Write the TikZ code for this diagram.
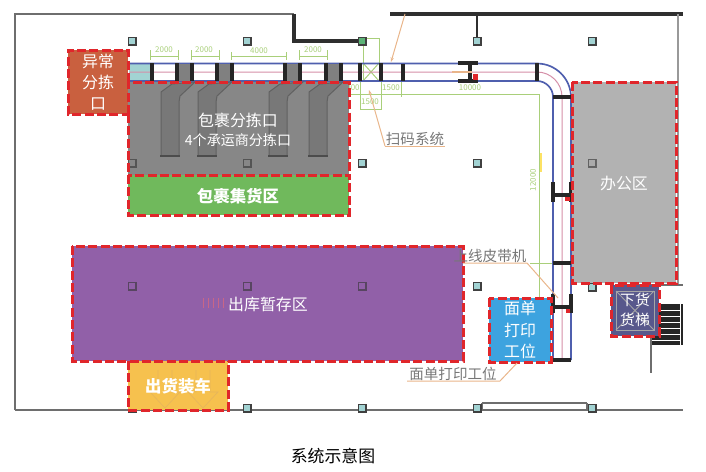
\documentclass[tikz,border=0pt]{standalone}
\usepackage{fontspec}
\setmainfont{Noto Sans CJK SC}
\usetikzlibrary{arrows.meta}
\definecolor{wallgray}{HTML}{6E6E6E}
\definecolor{walldark}{HTML}{2F2F2F}
\definecolor{beltblue}{HTML}{4F5FAE}
\definecolor{beltpink}{HTML}{D58FA8}
\definecolor{dimgreen}{HTML}{A9CF7A}
\definecolor{leadorange}{HTML}{E9B58A}
\definecolor{labelgray}{HTML}{777777}
\definecolor{zonered}{HTML}{E0262B}
\definecolor{pillarteal}{HTML}{A2D3D3}
\definecolor{loadyellow}{HTML}{F6C14E}
\definecolor{loadarrow}{HTML}{E6B55C}
\tikzset{
  wall/.style={line width=0.045cm,color=wallgray},
  thickwall/.style={line width=0.1cm,color=walldark},
  belt/.style={line width=0.05cm,color=beltblue},
  beltmid/.style={line width=0.03cm,color=beltpink},
  beltbar/.style={line width=0.1cm,color=black!85},
  dimline/.style={line width=0.03cm,color=dimgreen},
  dimtext/.style={text=dimgreen,font=\fontsize{6.8}{8}\selectfont,inner sep=0pt},
  leader/.style={line width=0.03cm,color=leadorange},
  zone/.style={line width=0.09cm,color=zonered,dash pattern=on 0.27cm off 0.1cm},
  zonetext/.style={text=white,align=center,inner sep=0pt,font=\fontsize{13.6}{18}\selectfont},
  pillar/.style={draw=black!75,fill=pillarteal,line width=0.05cm,minimum size=0.22cm,inner sep=0pt},
  hiddenpillar/.style={draw=black!80,fill=none,line width=0.05cm,minimum size=0.22cm,inner sep=0pt,opacity=0.6},
  calltext/.style={text=labelgray,inner sep=0pt,font=\fontsize{12.4}{15}\selectfont},
  chute/.style={fill=black!53,draw=black!62,line width=0.03cm},
}
\begin{document}
\begin{tikzpicture}[x=0.03cm,y=-0.03cm]
\useasboundingbox (0,0) rectangle (706,471);

% Drawing outer walls
\draw [wall] (15,410) -- (15,14) -- (294,14);
\draw [thickwall] (294,14) -- (294,41) -- (362,41);
\draw [thickwall] (390,14) -- (683,14);
\draw [thickwall,line width=0.07cm] (477,14) -- (477,41);
\draw [wall,color=black!40] (678,14) -- (678,285);
\draw [wall] (620,285) -- (683,285);
\draw [wall] (15,410) -- (683,410);
\draw [wall] (482,403) -- (587,403);
\draw [wall] (482,403) -- (482,410);
\draw [wall] (587,403) -- (587,410);
\draw [wall] (651,336) -- (651,373);

% Drawing stairs
\fill [black!85] (652,304) rectangle (683,345);
\draw [white,line width=0.012cm] (652,310) -- (680,310);
\draw [white,line width=0.012cm] (652,316) -- (680,316);
\draw [white,line width=0.012cm] (652,322) -- (680,322);
\draw [white,line width=0.012cm] (652,328) -- (680,328);
\draw [white,line width=0.012cm] (652,334) -- (680,334);
\draw [white,line width=0.012cm] (652,340) -- (680,340);
\draw [white,line width=0.03cm] (680,304) -- (680,345);

% Drawing green dimension lines
\draw [dimline] (150,50) -- (150,60);
\draw [dimline] (150,56) -- (178,56);
\draw [dimline] (178,50) -- (178,60);
\draw [dimline] (191,50) -- (191,60);
\draw [dimline] (191,56) -- (219,56);
\draw [dimline] (219,50) -- (219,60);
\draw [dimline] (231,52) -- (231,60);
\draw [dimline] (231,56) -- (286,56);
\draw [dimline] (286,52) -- (286,60);
\draw [dimline] (299,50) -- (299,60);
\draw [dimline] (299,56) -- (327,56);
\draw [dimline] (327,50) -- (327,60);
\node [dimtext] (dimA) at (164,50) {2000};
\node [dimtext] (dimB) at (204,50) {2000};
\node [dimtext] (dimC) at (259,51) {4000};
\node [dimtext] (dimD) at (313,50) {2000};

% Drawing scanner frame
\draw [dimline] (363,38) rectangle (379,81);
\draw [dimline] (363,63) -- (379,81);
\draw [dimline] (379,63) -- (363,81);
\draw [dimline] (360,81) rectangle (381,109);
\draw [dimline] (401,81) -- (401,97);
\draw [dimline] (340,94.5) -- (539,94.5) -- (539,298);
\draw [dimline] (530,263) -- (553,263);
\node [dimtext] (dimE) at (353,88) {900};
\node [dimtext] (dimF) at (391,88) {1500};
\node [dimtext] (dimG) at (470,88) {10000};
\node [dimtext] (dimH) at (370,102) {1500};
\node [dimtext,rotate=90] (dimJ) at (533,180) {12000};
\draw [line width=0.05cm,color=yellow!70!orange!60] (541,153) -- (541,172);

% Drawing conveyor
\fill [pillarteal] (129,64) rectangle (152,81);
\draw [belt] (129,63.5) -- (537,63.5) arc (-90:0:34) -- (571,360);
\draw [belt] (129,81) -- (537,81) arc (-90:0:16) -- (553,360);
\draw [beltmid] (129,72) -- (537,72) arc (-90:0:25) -- (562,360);

% Drawing conveyor bars
\draw [beltbar] (152,63) -- (152,81);
\fill [black!50] (177,64) rectangle (192,81);
\draw [beltbar] (177,63) -- (177,81);
\draw [beltbar] (192,63) -- (192,81);
\fill [black!50] (217,64) rectangle (232,81);
\draw [beltbar] (217,63) -- (217,81);
\draw [beltbar] (232,63) -- (232,81);
\fill [black!50] (285,64) rectangle (300,81);
\draw [beltbar] (285,63) -- (285,81);
\draw [beltbar] (300,63) -- (300,81);
\fill [black!50] (326,64) rectangle (341,81);
\draw [beltbar] (326,63) -- (326,81);
\draw [beltbar] (341,63) -- (341,81);
\draw [beltbar] (360,63) -- (360,81);
\draw [beltbar] (381,63) -- (381,81);
\draw [beltbar,line width=0.14cm] (403,64) -- (403,81);
\draw [beltbar] (458,63) -- (478,63);
\draw [beltbar] (458,81) -- (478,81);
\draw [beltbar] (470,63) -- (470,81);
\draw [beltbar] (537,63) -- (537,81);
\draw [beltbar] (553,97) -- (571,97);
\draw [beltbar] (553,195) -- (571,195);
\draw [beltbar] (553,182) -- (553,202);
\draw [beltbar] (571,182) -- (571,202);
\draw [beltbar] (553,263) -- (571,263);
\draw [beltbar] (553,307) -- (571,307);
\draw [beltbar] (553,294) -- (553,313);
\draw [beltbar] (571,294) -- (571,313);
\draw [beltbar] (553,360) -- (571,360);
\fill [zonered] (473,74) rectangle (478,80);
\fill [zonered] (565,197) rectangle (570,201);
\fill [zonered] (566,309) rectangle (570,313);
\draw [leader,line width=0.05cm] (452,72) -- (472,72);

% Marking bottom pillar under the loading zone
\node [pillar] (pilR) at (132,408) {};

% Drawing zones
\fill [fill=black!47] (128,82) rectangle (349,175);
\fill [fill=black!30] (572,82) rectangle (676,283);
\fill [fill={rgb,255:red,112;green,185;blue,92}] (128,175) rectangle (349,215);
\fill [fill={rgb,255:red,201;green,96;blue,63}] (68,50) rectangle (128,114);
\fill [fill={rgb,255:red,145;green,96;blue,168}] (72,246) rectangle (463,361);
\fill [fill=loadyellow] (128,361) rectangle (228,410);
\fill [fill={rgb,255:red,61;green,163;blue,223}] (489,298) rectangle (551,362);
\fill [fill={rgb,255:red,88;green,88;blue,140}] (611,285) rectangle (659,336);

% Drawing faint details inside zones
\draw [black!35,line width=0.025cm] (616,291) rectangle (654,330);
\draw [black!35,line width=0.025cm] (616,291) -- (654,330);
\draw [black!35,line width=0.025cm] (654,291) -- (616,330);
\draw [loadarrow,line width=0.02cm] (158,370) -- (158,392) -- (150,392) -- (165,408) -- (180,392) -- (172,392) -- (172,370);
\draw [loadarrow,line width=0.02cm] (196,370) -- (196,392) -- (188,392) -- (203,408) -- (218,392) -- (210,392) -- (210,370);
\draw [black!15!purple!60,line width=0.03cm] (203,298) -- (203,308);
\draw [black!15!purple!60,line width=0.03cm] (208,298) -- (208,308);
\draw [black!15!purple!60,line width=0.03cm] (213,298) -- (213,308);
\draw [black!15!purple!60,line width=0.03cm] (218,298) -- (218,308);
\draw [black!15!purple!60,line width=0.03cm] (223,298) -- (223,308);

% Drawing chutes
\draw [chute] (161,102) -- (161,92) -- (172,84) -- (195,82) -- (180,96) -- (179,102) -- (179,156) -- (161,156) -- cycle;
\draw [chute] (198,102) -- (198,92) -- (209,84) -- (232,82) -- (217,96) -- (216,102) -- (216,156) -- (198,156) -- cycle;
\draw [chute] (269,102) -- (269,92) -- (280,84) -- (303,82) -- (288,96) -- (287,102) -- (287,156) -- (269,156) -- cycle;
\draw [chute] (309,102) -- (309,92) -- (320,84) -- (343,82) -- (328,96) -- (327,102) -- (327,156) -- (309,156) -- cycle;
\draw [black!70,line width=0.07cm] (160,156) -- (180,156);
\draw [black!70,line width=0.07cm] (197,156) -- (217,156);
\draw [black!70,line width=0.07cm] (268,156) -- (288,156);
\draw [black!70,line width=0.07cm] (308,156) -- (328,156);

% Marking top row of pillars
\node [pillar] (pilA) at (132,41) {};
\node [pillar] (pilB) at (247,41) {};
\node [pillar,fill=pillarteal!70!green!80!black] (pilC) at (362,41) {};
\node [pillar] (pilD) at (477,41) {};
\node [pillar] (pilE) at (592,41) {};

% Marking second row of pillars
\node [hiddenpillar] (pilF) at (132,163) {};
\node [hiddenpillar] (pilG) at (247,163) {};
\node [pillar] (pilH) at (362,163) {};
\node [pillar] (pilJ) at (477,163) {};
\node [hiddenpillar,fill=black!35] (pilK) at (592,163) {};

% Marking third row of pillars
\node [hiddenpillar] (pilL) at (132,286) {};
\node [hiddenpillar] (pilM) at (247,286) {};
\node [hiddenpillar] (pilN) at (362,286) {};
\node [pillar] (pilP) at (477,286) {};
\node [pillar] (pilQ) at (592,287) {};

% Marking bottom row of pillars
\node [pillar] (pilS) at (247,408) {};
\node [pillar] (pilT) at (362,408) {};
\node [pillar] (pilU) at (477,408) {};
\node [pillar] (pilV) at (592,408) {};

% Drawing zone borders
\draw [zone] (128,114) -- (128,82) -- (349,82) -- (349,175);
\draw [zone] (128,114) -- (128,175);
\draw [zone] (128,175) rectangle (349,215);
\draw [zone] (128,82) -- (128,50) -- (68,50) -- (68,114) -- (128,114);
\draw [zone] (572,82) rectangle (676,283);
\draw [zone] (72,246) rectangle (463,361);
\draw [zone] (128,361) -- (128,410) -- (228,410) -- (228,361);
\draw [zone] (489,298) rectangle (551,362);
\draw [zone] (611,285) rectangle (659,336);

% Writing zone names
\node [zonetext] (zoneErr) at (98,82) {异常\\分拣\\口};
\node [zonetext] (zoneSort) at (238,120) {包裹分拣口};
\node [zonetext,font=\fontsize{12}{15}\selectfont] (zoneFour) at (238,140) {4个承运商分拣口};
\node [zonetext,font=\bfseries\fontsize{14}{18}\selectfont] (zoneGather) at (238,196) {包裹集货区};
\node [zonetext] (zoneStore) at (268,304) {出库暂存区};
\node [zonetext,font=\bfseries\fontsize{14}{18}\selectfont] (zoneLoad) at (178,386) {出货装车};
\node [zonetext] (zoneOffice) at (624,183) {办公区};
\node [zonetext] (zonePrint) at (520,330) {面单\\打印\\工位};
\node [zonetext,font=\fontsize{12.6}{17}\selectfont] (zoneLift) at (635,310) {下货\\货梯};

% Writing callouts with leaders
\node [calltext] (callScan) at (415,139) {扫码系统};
\coordinate (scanFoot) at (385,146);
\coordinate (scanEnd) at (445,146);
\coordinate (scanTip) at (369,90);
\coordinate (scanTop) at (405,14);
\coordinate (scanHead) at (391,62);
\draw [leader] (scanEnd) -- (scanFoot);
\draw [leader,-{Stealth[length=0.14cm,width=0.1cm]}] (scanFoot) -- (scanTip);
\draw [leader,-{Stealth[length=0.14cm,width=0.1cm]}] (scanTop) -- (scanHead);

\node [calltext] (callBelt) at (490,256) {上线皮带机};
\coordinate (beltFoot) at (463,263);
\coordinate (beltBend) at (527,263);
\coordinate (beltTip) at (558,298);
\draw [leader] (beltFoot) -- (beltBend) -- (beltTip);

\node [calltext] (callPrint) at (453,374) {面单打印工位};
\coordinate (printFoot) at (407,381);
\coordinate (printBend) at (500,381);
\coordinate (printTip) at (517,363);
\draw [leader] (printFoot) -- (printBend) -- (printTip);

% Writing caption
\node [inner sep=0pt,font=\fontsize{14.4}{18}\selectfont] (caption) at (333,456) {系统示意图};
\end{tikzpicture}
\end{document}
